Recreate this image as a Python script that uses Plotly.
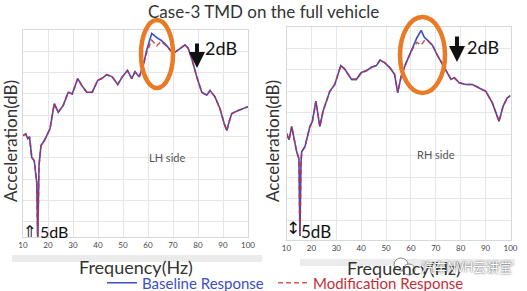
import plotly.graph_objects as go

# ---------------- data ----------------
freq_lh = [10, 11.1, 11.9, 12.6, 13.5, 14.5, 15.5, 15.9, 16.4, 17.2,
           18.5, 20.1, 20.8, 22.5, 24.1, 26.1, 28.1, 29.7, 31.9, 33.5,
           35.5, 37.7, 39.9, 41.5, 43.5, 45.7, 47.9, 49.7, 51.8, 53.5,
           54.8, 56.5, 58.1, 59.5, 61.5, 63.5, 65.2, 67.2, 68.8, 70.1,
           72.5, 74.8, 76.0, 77.5, 79.5, 81.5, 83.5, 84.8, 86.8, 88.8,
           90.5, 91.5, 92.5, 93.5, 96.1, 100]
base_lh = [25.2, 25.6, 24.5, 24.9, 20.1, 19.3, 14.2, 0.5, 18.2, 22.9,
           24.0, 26.0, 26.8, 32.7, 30.7, 32.3, 35.4, 35.0, 38.6, 37.0,
           35.4, 35.4, 38.2, 38.6, 39.5, 39.0, 37.2, 39.0, 40.5, 38.6,
           40.2, 39.0, 41.7, 45.3, 49.2, 48.2, 47.6, 46.5, 45.3, 44.5,
           45.5, 46.5, 45.8, 43.3, 39.0, 35.4, 34.7, 35.8, 34.3, 31.5,
           28.0, 26.4, 28.5, 30.4, 31.1, 32.0]
mod_lh = [25.2, 25.6, 24.5, 24.9, 20.1, 19.3, 14.2, 0.5, 18.2, 22.9,
          24.0, 26.0, 26.8, 32.7, 30.7, 32.3, 35.4, 35.0, 38.6, 37.0,
          35.4, 35.4, 38.2, 38.6, 39.5, 39.0, 37.2, 39.0, 40.5, 38.6,
          40.2, 39.0, 41.7, 44.8, 47.6, 46.3, 47.3, 46.3, 45.3, 44.5,
          45.5, 46.5, 45.8, 43.3, 39.0, 35.4, 34.7, 35.8, 34.3, 31.5,
          28.0, 26.4, 28.5, 30.4, 31.1, 32.0]

freq_rh = [10, 11, 12.1, 13.1, 14.1, 15, 15.4, 15.8, 16.1, 17.4,
           19.4, 20.4, 21.8, 23.4, 24.7, 27.4, 29.4, 31.8, 33.4, 36.1,
           38.1, 40.1, 42.1, 44.1, 46.1, 47.6, 49.4, 51.4, 53.4, 54.7,
           56.1, 58.1, 60.7, 62.4, 64.1, 65.4, 66.7, 68.7, 70.7, 73.4,
           74.7, 76.1, 77.4, 79.4, 82.1, 84.7, 87.4, 90.1, 92.7, 95.4,
           97, 98.7, 100]
base_rh = [25.2, 23.7, 26.8, 24.0, 20.9, 19.3, 1.3, 18.0, 20.9, 22.1,
           26.8, 28.0, 32.7, 26.8, 30.4, 35.0, 36.6, 41.0, 40.2, 37.8,
           37.8, 39.4, 39.8, 40.6, 41.0, 42.3, 41.7, 40.6, 39.0, 34.7,
           38.6, 41.7, 45.3, 47.5, 49.2, 47.6, 46.9, 45.7, 43.3, 40.6,
           39.4, 37.8, 38.2, 37.0, 36.6, 36.6, 35.8, 35.0, 32.3, 28.0,
           31.5, 33.5, 34.0]
mod_rh = [25.2, 23.7, 26.8, 24.0, 20.9, 19.3, 1.3, 18.0, 20.9, 22.1,
          26.8, 28.0, 32.7, 26.8, 30.4, 35.0, 36.6, 41.0, 40.2, 37.8,
          37.8, 39.4, 39.8, 40.6, 41.0, 42.3, 41.7, 40.6, 39.0, 34.7,
          38.6, 41.7, 45.0, 46.4, 45.8, 46.8, 46.9, 45.7, 43.3, 40.6,
          39.4, 37.8, 38.2, 37.0, 36.6, 36.6, 35.8, 35.0, 32.3, 28.0,
          31.5, 33.5, 34.0]

tick_vals = [10, 20, 30, 40, 50, 60, 70, 80, 90, 100]
series_names = ["Baseline Response", "Modification Response"]
title_text = "Case-3 TMD on the full vehicle"
y_title = "Acceleration(dB)"
x_title = "Frequency(Hz)"
panel_labels = ["LH side", "RH side"]

# ---------------- helpers ----------------
W, H = 527, 291
def px(x):
    return x / W
def py(y):
    return 1 - y / H

BLUE = "#3d4ec6"
RED = "#c42f3a"
FONT = "Lato"

fig = go.Figure()
fig.add_trace(go.Scatter(x=freq_lh, y=base_lh, mode="lines", name=series_names[0],
                         line=dict(color=BLUE, width=1.6), xaxis="x", yaxis="y",
                         legend="legend"))
fig.add_trace(go.Scatter(x=freq_lh, y=mod_lh, mode="lines", name=series_names[1],
                         line=dict(color=RED, width=1.6, dash="5px,3px"), opacity=0.8,
                         xaxis="x", yaxis="y", legend="legend2"))
fig.add_trace(go.Scatter(x=freq_rh, y=base_rh, mode="lines", name=series_names[0],
                         line=dict(color=BLUE, width=1.6), xaxis="x2", yaxis="y2",
                         showlegend=False))
fig.add_trace(go.Scatter(x=freq_rh, y=mod_rh, mode="lines", name=series_names[1],
                         line=dict(color=RED, width=1.6, dash="5px,3px"), opacity=0.8,
                         xaxis="x2", yaxis="y2", showlegend=False))

xcommon = dict(range=[10, 100], tickvals=tick_vals, showgrid=True, gridcolor="#e6e6e6",
               gridwidth=1, showline=True, linecolor="#d4dada", mirror=True, zeroline=False,
               ticks="", tickfont=dict(family=FONT, size=8, color="#444"), fixedrange=True)
ycommon = dict(tick0=0, dtick=5, showgrid=True, gridcolor="#e6e6e6", gridwidth=1,
               showline=True, linecolor="#d4dada", mirror=True, zeroline=False,
               showticklabels=False, ticks="", fixedrange=True)

fig.update_layout(
    width=W, height=H,
    margin=dict(l=0, r=0, t=0, b=0, autoexpand=False),
    paper_bgcolor="white", plot_bgcolor="white",
    xaxis=dict(domain=[px(23), px(248)], anchor="y", **xcommon),
    yaxis=dict(domain=[py(237), py(30)], range=[1.4, 50], anchor="x", **ycommon),
    xaxis2=dict(domain=[px(286.5), px(510.5)], anchor="y2", **xcommon),
    yaxis2=dict(domain=[py(240), py(27)], range=[0.35, 50], anchor="x2", **ycommon),
    legend=dict(orientation="h", x=px(102), y=py(283), xanchor="left", yanchor="middle",
                bgcolor="rgba(0,0,0,0)", font=dict(family=FONT, size=15, color=BLUE)),
    legend2=dict(orientation="h", x=px(273), y=py(283), xanchor="left", yanchor="middle",
                 bgcolor="rgba(0,0,0,0)", font=dict(family=FONT, size=15, color=RED)),
    showlegend=True,
)

shapes = []
# faint gray bands under the tick labels
shapes.append(dict(type="rect", xref="paper", yref="paper", x0=px(12), x1=px(262),
                   y0=py(262), y1=py(255), fillcolor="#ebebeb", line=dict(width=0), layer="below"))
shapes.append(dict(type="rect", xref="paper", yref="paper", x0=px(300), x1=px(515),
                   y0=py(266), y1=py(259), fillcolor="#ebebeb", line=dict(width=0), layer="below"))
# orange ellipses
shapes.append(dict(type="circle", xref="paper", yref="paper", x0=px(141), x1=px(173),
                   y0=py(88), y1=py(20), line=dict(color="#e97a26", width=4.5)))
shapes.append(dict(type="circle", xref="paper", yref="paper", x0=px(400), x1=px(445),
                   y0=py(93), y1=py(17), line=dict(color="#e97a26", width=4.5)))
# watermark icon
shapes.append(dict(type="circle", xref="paper", yref="paper", x0=px(394), x1=px(408),
                   y0=py(271), y1=py(258), fillcolor="white", line=dict(color="#888", width=1)))
shapes.append(dict(type="circle", xref="paper", yref="paper", x0=px(403), x1=px(415),
                   y0=py(275), y1=py(264), fillcolor="white", line=dict(color="#888", width=1)))
fig.update_layout(shapes=shapes)

ann = []
def text(x, y, s, size, color="#333", family=FONT, angle=0, **kw):
    ann.append(dict(x=px(x), y=py(y), xref="paper", yref="paper", text=s, showarrow=False,
                    xanchor="center", yanchor="middle", textangle=angle,
                    font=dict(family=family, size=size, color=color), **kw))

text(263, 12, title_text, 17)
text(10, 141, y_title, 17, angle=-90)
text(272, 141, y_title, 17, angle=-90)
text(136, 267, x_title, 18)
text(404, 268, x_title, 18)
text(167, 157, panel_labels[0], 11, color="#555")
text(436, 154, panel_labels[1], 11, color="#555")
text(221, 48, "2dB", 18, color="#111")
text(483, 47, "2dB", 18, color="#111")
text(29, 231, "⇑", 16, color="#111", family="DejaVu Sans")
text(54, 231, "5dB", 16, color="#111")
text(293, 228, "↕", 17, color="#111", family="DejaVu Sans")
text(316, 231, "5dB", 17, color="#111")
ann.append(dict(x=px(466), y=py(266), xref="paper", yref="paper", text="汽车NVH云讲堂",
                showarrow=False, xanchor="center", yanchor="middle",
                font=dict(family="Noto Sans CJK SC", size=13, color="white",
                          shadow="0px 0px 2px #222")))
# 2dB arrows
for xa, ytip, length in [(197, 68, 26), (457, 62, 27)]:
    ann.append(dict(x=px(xa), y=py(ytip), xref="paper", yref="paper", text="",
                    showarrow=True, ax=0, ay=-length, arrowhead=2, arrowwidth=4,
                    arrowsize=0.8, arrowcolor="#111"))
fig.update_layout(annotations=ann)

fig.write_html("out.html")
